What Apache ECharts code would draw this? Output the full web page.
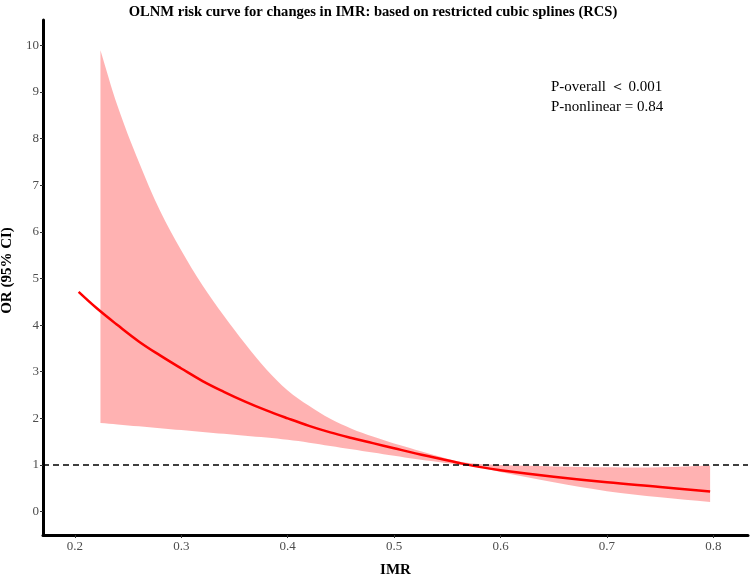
<!DOCTYPE html>
<html>
<head>
<meta charset="utf-8">
<script src="https://cdn.jsdelivr.net/npm/echarts@6/dist/echarts.min.js"></script>
<style>
  html, body { margin: 0; padding: 0; background: #fff; }
  #main { width: 750px; height: 575px; }
</style>
</head>
<body>
<div id="main"></div>
<script>
// fitted OR curve
var lineX = [0.2035, 0.22, 0.24, 0.26, 0.28, 0.30, 0.32, 0.34, 0.36, 0.38, 0.40, 0.42, 0.44, 0.46, 0.48, 0.50, 0.52, 0.54, 0.56, 0.58, 0.60, 0.65, 0.70, 0.75, 0.797];
var lineY = [4.71, 4.37, 4.00, 3.65, 3.35, 3.07, 2.80, 2.57, 2.36, 2.17, 2.00, 1.84, 1.70, 1.58, 1.47, 1.36, 1.25, 1.15, 1.05, 0.96, 0.89, 0.75, 0.63, 0.53, 0.43];

// 95% CI band
var bandX = [0.224, 0.24, 0.26, 0.28, 0.30, 0.32, 0.34, 0.36, 0.38, 0.40, 0.42, 0.44, 0.46, 0.48, 0.50, 0.52, 0.54, 0.56, 0.58, 0.60, 0.65, 0.70, 0.75, 0.797];
var upper = [9.89, 8.70, 7.50, 6.45, 5.60, 4.85, 4.20, 3.60, 3.05, 2.60, 2.27, 1.99, 1.78, 1.61, 1.46, 1.33, 1.20, 1.08, 1.02, 1.00, 0.97, 0.95, 0.95, 0.99];
var lower = [1.90, 1.87, 1.83, 1.79, 1.75, 1.71, 1.67, 1.63, 1.59, 1.54, 1.48, 1.41, 1.34, 1.27, 1.20, 1.13, 1.07, 1.01, 0.95, 0.85, 0.63, 0.44, 0.31, 0.21];

var xTicks = [0.2, 0.3, 0.4, 0.5, 0.6, 0.7, 0.8];
var yTicks = [0, 1, 2, 3, 4, 5, 6, 7, 8, 9, 10];
var refLine = 1;

var serif = '"Liberation Serif", "DejaVu Serif", serif';

var bandData = bandX.map(function (x, i) { return [x, lower[i], upper[i]]; });
var curveData = lineX.map(function (x, i) { return [x, lineY[i]]; });

// whole CI band as one smoothed polygon; corner points doubled so the vertical ends stay sharp
function renderBand(params, api) {
    if (params.dataIndex !== 0) return;
    var n = bandData.length;
    var pts = [];
    for (var i = 0; i < n; i++) {
        var p = api.coord([bandData[i][0], bandData[i][2]]);
        pts.push(p);
        if (i === 0 || i === n - 1) pts.push(p.slice());
    }
    for (var j = n - 1; j >= 0; j--) {
        var q = api.coord([bandData[j][0], bandData[j][1]]);
        pts.push(q);
        if (j === 0 || j === n - 1) pts.push(q.slice());
    }
    return {
        type: 'polygon',
        shape: { points: pts, smooth: 0.35 },
        style: { fill: 'rgba(255,0,0,0.3)', stroke: 'none' },
        silent: true
    };
}

var chart = echarts.init(document.getElementById('main'));
var option = {
    animation: false,
    backgroundColor: '#fff',
    title: {
        text: 'OLNM risk curve for changes in IMR: based on restricted cubic splines (RCS)',
        left: 368, top: 0, textAlign: 'center',
        textStyle: { fontFamily: serif, fontSize: 14.6, fontWeight: 'bold', color: '#000' }
    },
    grid: { left: 43, right: 2, top: 20, bottom: 40, containLabel: false, outerBoundsMode: 'none' },
    xAxis: {
        type: 'value', min: 0.17, max: 0.8326,
        name: 'IMR', nameLocation: 'middle', nameGap: 28,
        nameTextStyle: { fontFamily: serif, fontSize: 15, fontWeight: 'bold', color: '#000' },
        axisLine: { onZero: false, lineStyle: { color: '#000', width: 3 } },
        axisTick: { show: true, customValues: xTicks, length: 3, lineStyle: { color: '#333' } },
        axisLabel: { customValues: xTicks, fontFamily: serif, fontSize: 13, color: '#4d4d4d', margin: 5,
            formatter: function (v) { return v.toFixed(1); } },
        splitLine: { show: false }
    },
    yAxis: {
        type: 'value', min: -0.5, max: 10.54,
        name: 'OR (95% CI)', nameLocation: 'middle', nameGap: 25, nameRotate: 90,
        nameTextStyle: { fontFamily: serif, fontSize: 15, fontWeight: 'bold', color: '#000', padding: [0, 0, 0, 14] },
        axisLine: { show: true, onZero: false, lineStyle: { color: '#000', width: 3 } },
        axisTick: { show: true, customValues: yTicks, length: 3, lineStyle: { color: '#333' } },
        axisLabel: { customValues: yTicks, fontFamily: serif, fontSize: 13, color: '#4d4d4d', margin: 4 },
        splitLine: { show: false }
    },
    series: [
        {
            type: 'custom', data: bandData, renderItem: renderBand,
            encode: { x: 0, y: [1, 2] }, silent: true, z: 1
        },
        {
            type: 'line', data: curveData, symbol: 'none', smooth: 0.4, z: 3,
            lineStyle: { color: '#ff0000', width: 2.5 },
            markLine: {
                silent: true, symbol: 'none', label: { show: false },
                lineStyle: { color: '#000', type: [6, 4], width: 1.5 },
                data: [{ yAxis: refLine }]
            }
        }
    ],
    graphic: [
        { type: 'text', left: 551, top: 80, style: { text: 'P-overall \uFF1C 0.001', fontFamily: serif, fontSize: 15, fill: '#000' } },
        { type: 'text', left: 551, top: 100, style: { text: 'P-nonlinear = 0.84', fontFamily: serif, fontSize: 15, fill: '#000' } }
    ]
};
chart.setOption(option);
</script>
</body>
</html>
